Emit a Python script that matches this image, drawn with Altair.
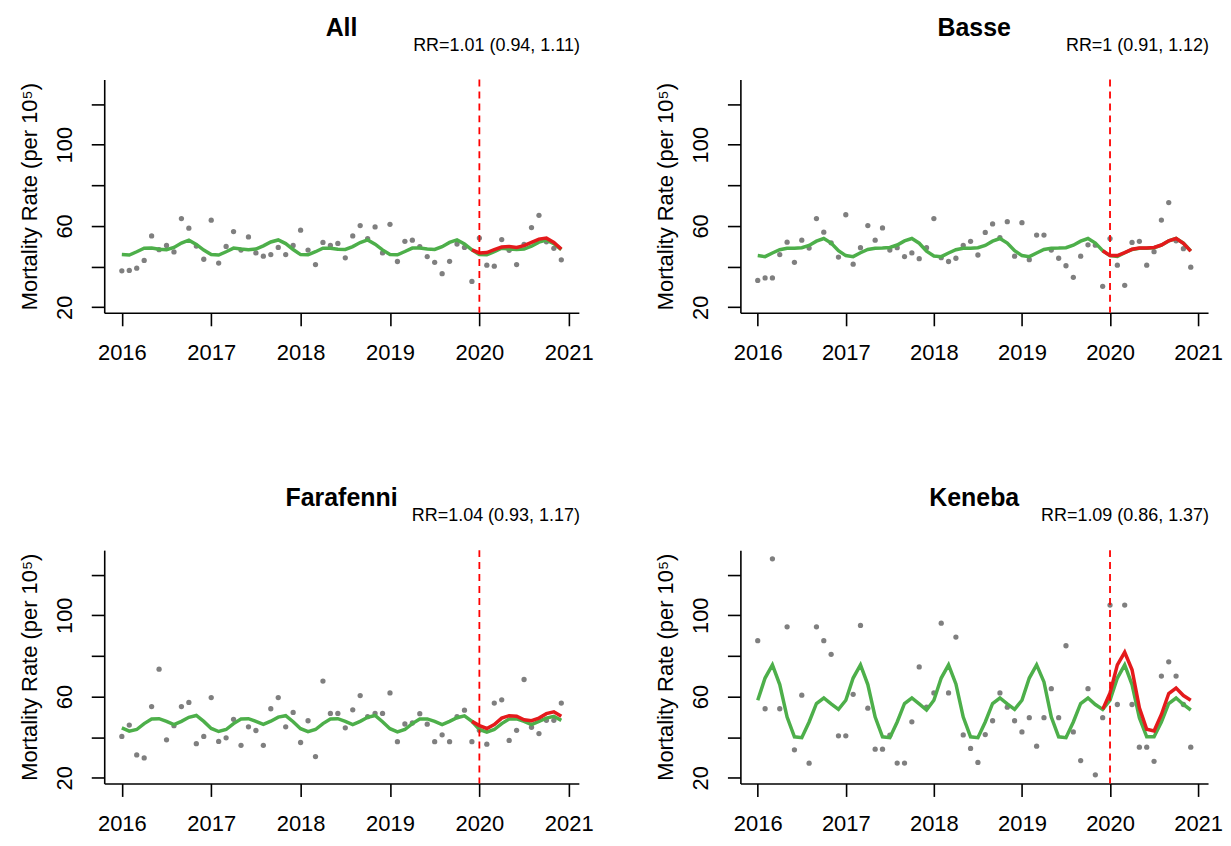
import altair as alt
import pandas as pd

# ---------------- data ----------------
panel_names = ["All", "Basse", "Farafenni", "Keneba"]
rr_labels = ["RR=1.01 (0.94, 1.11)", "RR=1 (0.91, 1.12)",
             "RR=1.04 (0.93, 1.17)", "RR=1.09 (0.86, 1.37)"]
x_ticks = [2016, 2017, 2018, 2019, 2020, 2021]
y_ticks = [20, 40, 60, 80, 100, 120]
covid_start = [2020]

# monthly observed mortality rates, Jan 2016 .. Dec 2020
all_obs = [37.9, 38.1, 39.2, 43.0, 55.1, 48.3, 50.4, 47.2, 63.6, 58.9, 50.1, 43.6,
           62.8, 41.7, 49.9, 57.2, 48.1, 54.6, 46.7, 45.1, 45.9, 49.4, 45.9, 50.4,
           57.9, 48.1, 41.0, 51.9, 50.4, 51.4, 44.3, 55.1, 60.2, 53.8, 59.5, 46.7,
           60.8, 42.5, 52.4, 53.0, 49.8, 44.9, 42.1, 36.5, 42.6, 51.1, 49.4, 32.7,
           54.0, 40.7, 40.2, 53.3, 48.0, 41.0, 50.9, 59.2, 65.2, 52.2, 49.0, 43.3]
basse_obs = [33.2, 34.4, 34.4, 45.9, 52.0, 42.1, 53.0, 49.1, 63.6, 56.9, 51.7, 44.7,
             65.5, 41.2, 49.3, 60.2, 53.0, 59.0, 48.1, 49.3, 44.9, 46.7, 43.9, 49.3,
             63.6, 44.4, 42.5, 44.1, 50.4, 52.4, 45.7, 56.8, 61.0, 54.2, 62.1, 45.1,
             61.6, 43.4, 55.5, 55.5, 48.1, 44.1, 40.4, 34.7, 45.1, 50.7, 50.5, 30.3,
             53.8, 40.7, 30.8, 51.9, 52.4, 40.7, 47.3, 62.9, 71.5, 52.7, 48.8, 39.7]
farafenni_obs = [40.4, 46.0, 31.3, 29.8, 55.1, 73.5, 38.7, 45.7, 55.1, 57.1, 36.8, 40.4,
                 59.5, 37.9, 39.7, 48.8, 36.0, 45.1, 43.3, 36.0, 54.0, 59.5, 45.1, 52.2,
                 37.4, 48.1, 30.5, 67.6, 51.7, 51.7, 44.6, 53.5, 60.5, 50.1, 51.7, 51.7,
                 61.8, 37.8, 46.5, 47.0, 51.6, 46.4, 37.8, 41.2, 37.8, 50.1, 53.3, 37.8,
                 43.4, 36.6, 56.8, 58.4, 38.4, 43.4, 68.4, 44.9, 41.8, 48.3, 48.3, 56.8]
keneba_obs = [87.5, 54.0, 127.8, 54.0, 94.3, 33.8, 60.7, 27.2, 94.3, 87.5, 80.8, 40.7,
              40.7, 61.1, 95.0, 54.3, 34.1, 34.1, 41.0, 27.3, 27.3, 47.6, 74.6, 54.8,
              61.8, 96.1, 61.8, 89.3, 41.1, 34.5, 27.6, 41.3, 48.1, 61.8, 54.8, 48.1,
              42.6, 49.6, 35.6, 49.6, 63.9, 49.6, 85.0, 42.6, 28.5, 63.9, 21.5, 49.6,
              105.0, 56.1, 105.0, 56.1, 35.1, 35.1, 28.1, 70.1, 77.1, 70.1, 56.1, 35.1]

# expected (green) rates, Jan 2016 .. Dec 2020
all_fit = [45.9, 45.7, 47.3, 49.0, 49.1, 48.5, 48.3, 49.4, 51.6, 53.0, 50.9, 48.1,
           45.9, 45.7, 47.3, 49.1, 48.6, 48.3, 48.6, 50.2, 52.1, 53.1, 51.3, 48.4,
           45.9, 45.8, 47.3, 49.0, 49.0, 48.5, 48.4, 49.8, 51.8, 53.1, 51.0, 48.2,
           45.9, 45.8, 47.4, 49.1, 49.1, 48.6, 48.4, 49.8, 51.9, 53.1, 51.1, 48.2,
           45.9, 45.8, 47.3, 49.0, 48.7, 48.4, 48.6, 50.0, 52.0, 53.0, 51.3, 48.3]
basse_fit = [45.4, 44.9, 46.7, 48.3, 49.0, 49.0, 49.3, 50.4, 52.5, 53.8, 51.6, 47.8,
             45.4, 44.9, 46.8, 48.4, 49.0, 49.1, 49.4, 50.6, 52.6, 53.8, 51.5, 47.6,
             45.2, 44.9, 46.7, 48.3, 49.0, 49.0, 49.3, 50.4, 52.5, 53.8, 51.6, 47.8,
             45.4, 44.9, 46.7, 48.4, 49.0, 49.1, 49.3, 50.5, 52.5, 53.8, 51.6, 47.8,
             45.4, 45.0, 46.8, 48.4, 49.0, 49.0, 49.3, 50.5, 52.6, 53.8, 51.5, 47.7]
farafenni_fit = [44.6, 43.0, 43.8, 46.7, 49.0, 49.1, 47.8, 46.2, 47.8, 49.8, 50.7, 47.8,
                 44.3, 42.8, 43.8, 46.7, 49.0, 49.1, 47.8, 46.3, 47.9, 49.9, 50.6, 47.6,
                 44.2, 42.7, 43.8, 46.7, 49.0, 49.1, 47.8, 46.2, 47.8, 49.8, 50.7, 47.6,
                 44.2, 42.6, 43.8, 46.7, 49.0, 49.0, 47.8, 46.2, 47.8, 49.6, 50.5, 47.8,
                 43.8, 42.5, 43.8, 46.7, 49.0, 49.0, 47.8, 46.2, 47.8, 49.4, 50.3, 48.3]
keneba_fit = [58.2, 69.1, 75.6, 65.9, 49.9, 40.2, 39.8, 47.5, 56.6, 59.3, 56.4, 53.7,
              58.2, 69.1, 75.6, 65.9, 49.9, 40.2, 39.8, 47.5, 56.6, 59.3, 56.4, 53.4,
              58.2, 69.1, 75.6, 66.2, 49.9, 40.2, 39.8, 47.5, 56.6, 59.3, 56.4, 53.7,
              58.2, 69.1, 75.6, 67.2, 49.9, 40.2, 39.8, 47.5, 56.6, 59.3, 56.1, 53.7,
              58.2, 69.1, 75.6, 65.9, 49.6, 40.2, 40.2, 47.5, 56.6, 59.3, 56.1, 53.4]

# red line: Dec 2019 .. Dec 2020
all_red = [48.2, 46.7, 46.9, 48.3, 49.6, 49.9, 49.4, 50.3, 51.9, 53.5, 54.0, 51.9, 48.6]
basse_red = [47.8, 45.4, 45.4, 46.9, 48.5, 49.1, 49.1, 49.4, 50.6, 52.7, 53.8, 51.4, 47.6]
farafenni_red = [47.8, 45.7, 44.3, 46.2, 49.4, 50.6, 50.3, 48.6, 48.1, 49.4, 51.6, 52.5, 50.3]
keneba_red = [53.7, 61.8, 75.6, 81.8, 73.2, 54.5, 43.9, 43.1, 51.2, 61.5, 64.2, 60.5, 58.2]

obs_series = [all_obs, basse_obs, farafenni_obs, keneba_obs]
fit_series = [all_fit, basse_fit, farafenni_fit, keneba_fit]
red_series = [all_red, basse_red, farafenni_red, keneba_red]

# ---------------- styling ----------------
FONT = "Liberation Sans"
WIDTHS = [476, 469, 476, 469]
H = 234
GRAY = "#7f7f7f"
GREEN = "#4daf4a"
RED = "#e41a1c"

x_scale = alt.Scale(domain=[2015.803, 2021.113], nice=False, zero=False)
y_scale = alt.Scale(domain=[17.25, 132.05], nice=False, zero=False)

x_axis = alt.Axis(values=x_ticks, format="d", title=None, grid=False,
                  labelFont=FONT, labelFontSize=22, labelColor="black",
                  labelPadding=17, labelFlush=False, labelOverlap=False,
                  tickSize=13, tickWidth=1.6, tickColor="black",
                  domainColor="black", domainWidth=1.6)
y_axis = alt.Axis(values=y_ticks, grid=False,
                  labelExpr="datum.value % 40 == 20 ? datum.label : ''",
                  labelAngle=270, labelAlign="center", labelBaseline="bottom",
                  labelFont=FONT, labelFontSize=22, labelColor="black",
                  labelPadding=15, labelFlush=False, labelOverlap=False,
                  tickSize=13, tickWidth=1.6, tickColor="black",
                  domainColor="black", domainWidth=1.6,
                  title="Mortality Rate (per 10⁵)", titleFont=FONT,
                  titleFontSize=22, titleFontWeight="normal", titleColor="black",
                  titleAngle=270, titleX=-75, titleY=H / 2,
                  titleAlign="center", titleBaseline="middle")


def make_panel(k):
    W = WIDTHS[k]
    t = [2016 + i / 12 for i in range(60)]
    obs_df = pd.DataFrame({"t": t, "v": obs_series[k]})
    fit_df = pd.DataFrame({"t": t, "v": fit_series[k]})
    red_df = pd.DataFrame({"t": t[47:], "v": red_series[k]})
    x = alt.X("t:Q", scale=x_scale, axis=x_axis)
    y = alt.Y("v:Q", scale=y_scale, axis=y_axis)

    pts = alt.Chart(obs_df).mark_circle(size=28, color=GRAY, opacity=1).encode(x=x, y=y)
    green = alt.Chart(fit_df).mark_line(color=GREEN, strokeWidth=3.5).encode(x=x, y=y)
    red = alt.Chart(red_df).mark_line(color=RED, strokeWidth=3.5).encode(x=x, y=y)
    rule = alt.Chart(pd.DataFrame({"t": covid_start})).mark_rule(
        color="#ff0000", strokeDash=[7, 5], strokeWidth=1.8).encode(x=x)
    name_txt = alt.Chart(pd.DataFrame({"label": [panel_names[k]]})).mark_text(
        font=FONT, fontSize=25, fontWeight="bold", color="black",
        align="center", baseline="alphabetic").encode(
        x=alt.value(W / 2), y=alt.value(-44), text="label:N")
    rr_txt = alt.Chart(pd.DataFrame({"label": [rr_labels[k]]})).mark_text(
        font=FONT, fontSize=18, color="black",
        align="right", baseline="alphabetic").encode(
        x=alt.value(W + 1), y=alt.value(-29), text="label:N")
    return alt.layer(pts, green, red, rule, name_txt, rr_txt).properties(width=W, height=H)


row1 = alt.hconcat(make_panel(0), make_panel(1), spacing=60)
row2 = alt.hconcat(make_panel(2), make_panel(3), spacing=60)
chart = alt.vconcat(row1, row2, spacing=123).properties(
    padding={"left": 9.5, "top": 6.5, "right": 0, "bottom": -1},
    background="white",
).configure_view(stroke=None)

chart.save("out.html", embed_options={"renderer": "svg", "actions": False})
